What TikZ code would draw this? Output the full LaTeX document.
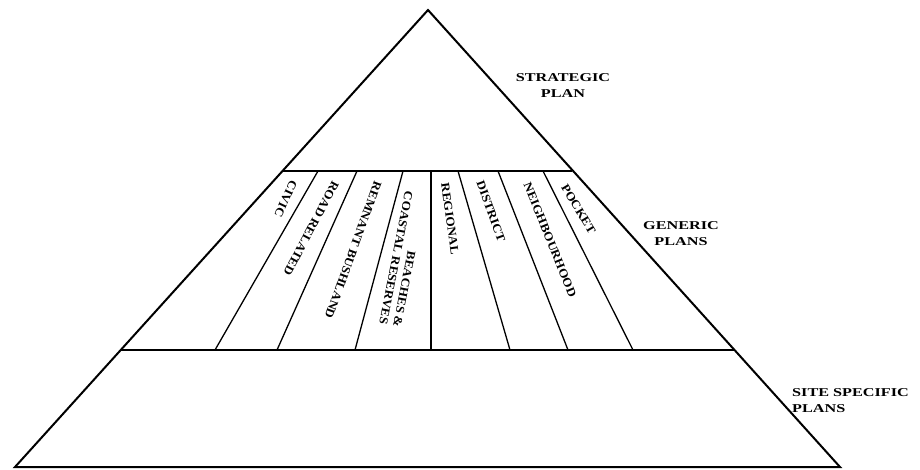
\documentclass[tikz,border=0pt]{standalone}
\usepackage{fontspec}
\setmainfont{Liberation Serif}
\newfontfamily\sidefont[FakeStretch=1.35]{Liberation Serif}
\newfontfamily\bandfont[FakeStretch=1.1]{Liberation Serif}
\tikzset{
  sidelabel/.style={font=\sidefont\bfseries\fontsize{12}{16}\selectfont,inner sep=0pt},
  bandlabel/.style={font=\bandfont\bfseries\fontsize{12}{14}\selectfont,inner sep=0pt,anchor=west},
}
\begin{document}
\begin{tikzpicture}[x=1pt,y=-1pt]
	\useasboundingbox (0,0) rectangle (920,469);
	% pyramid and its two bands
	\draw[line width=2pt] (428,10) -- (840,467) -- (15,467) -- cycle;
	\draw[line width=1.8pt] (283,171) -- (572,171);
	\draw[line width=1.8pt] (121,350) -- (734,350);
	\foreach \xt/\xb in {318/215, 357/277, 403/355, 431/431, 458/510, 498/568, 543/633}
		\draw[line width=1.3pt] (\xt,171) -- (\xb,350);
	% generic plan types
	\node[bandlabel,rotate=-115] (civic) at (294,181) {CIVIC};
	\node[bandlabel,rotate=-118] (road) at (336,182) {ROAD RELATED};
	\node[bandlabel,rotate=-110] (bush) at (378,182) {REMNANT BUSHLAND};
	\node[bandlabel,rotate=-101,anchor=east,align=right] (beach) at (390,326) {BEACHES \&\\COASTAL RESERVES};
	\node[bandlabel,rotate=-82] (regional) at (445,183) {REGIONAL};
	\node[bandlabel,rotate=-70] (district) at (480,181) {DISTRICT};
	\node[bandlabel,rotate=-68] (neighbour) at (527,183) {NEIGHBOURHOOD};
	\node[bandlabel,rotate=-59] (pocket) at (564,185) {POCKET};
	% levels
	\node[sidelabel,align=center] (strategic) at (563,86) {STRATEGIC\\PLAN};
	\node[sidelabel,align=center] (generic) at (681,234) {GENERIC\\PLANS};
	\node[sidelabel,align=left,anchor=north west] (site) at (792,388) {SITE SPECIFIC\\PLANS};
\end{tikzpicture}
\end{document}
